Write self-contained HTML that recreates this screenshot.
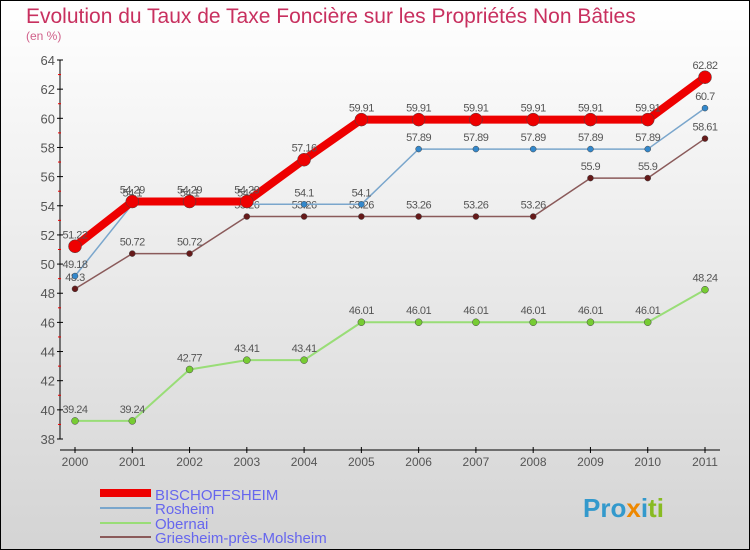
<!DOCTYPE html>
<html><head><meta charset="utf-8"><style>
body{margin:0}
svg{display:block;font-family:"Liberation Sans",sans-serif}
</style></head><body>
<svg width="750" height="550" viewBox="0 0 750 550">
<defs><linearGradient id="bg" x1="0" y1="0" x2="0" y2="1"><stop offset="0" stop-color="#ffffff"/><stop offset="1" stop-color="#d4d4d4"/></linearGradient></defs>
<rect x="0.5" y="0.5" width="749" height="549" fill="url(#bg)" stroke="#000"/>
<text x="26" y="23" font-size="21" fill="#c8305f">Evolution du Taux de Taxe Foncière sur les Propriétés Non Bâties</text>
<text x="26" y="40" font-size="12" fill="#d0608a">(en %)</text>
<g id="axes"></g><g id="series"></g>
<g>
<rect x="100" y="489" width="51" height="8" fill="#e00"/>
<text x="155" y="500" font-size="15" fill="#6666ee">BISCHOFFSHEIM</text>
<line x1="100" y1="508" x2="151" y2="508" stroke="#7aa6cc" stroke-width="2"/>
<text x="155" y="514" font-size="15" fill="#6666ee">Rosheim</text>
<line x1="100" y1="523" x2="151" y2="523" stroke="#99dd77" stroke-width="2"/>
<text x="155" y="529" font-size="15" fill="#6666ee">Obernai</text>
<line x1="100" y1="537" x2="151" y2="537" stroke="#8a5a5a" stroke-width="2"/>
<text x="155" y="543" font-size="15" fill="#6666ee">Griesheim-près-Molsheim</text>
</g>
<text x="583" y="517" font-size="26" font-weight="bold" fill="#3399cc">Pro<tspan fill="#ee8800">x</tspan><tspan fill="#3399cc">i</tspan><tspan fill="#88bb22">ti</tspan></text>
</svg>
<script>
const years=[2000,2001,2002,2003,2004,2005,2006,2007,2008,2009,2010,2011];
const yTicks=[38,40,42,44,46,48,50,52,54,56,58,60,62,64];
const bischoffsheim=[51.22,54.29,54.29,54.29,57.16,59.91,59.91,59.91,59.91,59.91,59.91,62.82];
const rosheim=[49.18,54.1,54.1,54.1,54.1,54.1,57.89,57.89,57.89,57.89,57.89,60.7];
const obernai=[39.24,39.24,42.77,43.41,43.41,46.01,46.01,46.01,46.01,46.01,46.01,48.24];
const griesheim=[48.3,50.72,50.72,53.26,53.26,53.26,53.26,53.26,53.26,55.9,55.9,58.61];
const NS="http://www.w3.org/2000/svg";
const xS=i=>75+i*(630/(years.length-1));
const yS=v=>439-(v-38)*(379/26);
function mk(t,a,p){const e=document.createElementNS(NS,t);for(const k in a)e.setAttribute(k,a[k]);p.appendChild(e);return e;}
const ax=document.getElementById('axes');
let e=mk('line',{x1:60,y1:60,x2:60,y2:439,stroke:'#000'},ax);


e=mk('line',{x1:60,y1:450,x2:720,y2:450,stroke:'#000'},ax);


yTicks.forEach((v,i)=>{
 mk('line',{x1:57,y1:yS(v),x2:63,y2:yS(v),stroke:'#000'},ax);
 if(i<yTicks.length-1)mk('line',{x1:58,y1:yS(v+1),x2:61,y2:yS(v+1),stroke:'#e00'},ax);
 const t=mk('text',{x:55,y:yS(v)+5,'font-size':13,fill:'#555','text-anchor':'end'},ax);
 t.textContent=v;
 
 
});
years.forEach((y,i)=>{
 mk('line',{x1:xS(i),y1:447,x2:xS(i),y2:453,stroke:'#000'},ax);
 const t=mk('text',{x:xS(i),y:466,'font-size':12,fill:'#555','text-anchor':'middle'},ax);
 t.textContent=y;
 
 
});
const sg=document.getElementById('series');
function draw(name,data,color,w,r,dot,labelColor){
 const g=mk('g',{},sg);
 
 
 mk('polyline',{points:data.map((v,i)=>xS(i)+','+yS(v)).join(' '),fill:'none',stroke:color,'stroke-width':w,'stroke-linejoin':'round'},g);
 data.forEach((v,i)=>{
  const c=mk('circle',{cx:xS(i),cy:yS(v),r:r,fill:dot,stroke:'#444','stroke-width':0.5},g);
  
  
  const t=mk('text',{x:xS(i),y:yS(v)-8,'font-size':11,fill:'#555','text-anchor':'middle','letter-spacing':'-0.5'},g);
  t.textContent=v;
  
  
 });
}
draw('obernai',obernai,'#99dd77',2,3.5,'#77cc33');
draw('griesheim',griesheim,'#8a5a5a',1.5,3,'#661a1a');
draw('rosheim',rosheim,'#7aa6cc',1.5,3,'#3388cc');
draw('bischoffsheim',bischoffsheim,'#ee0000',8,6.5,'#ee0000');
</script>
</body></html>
